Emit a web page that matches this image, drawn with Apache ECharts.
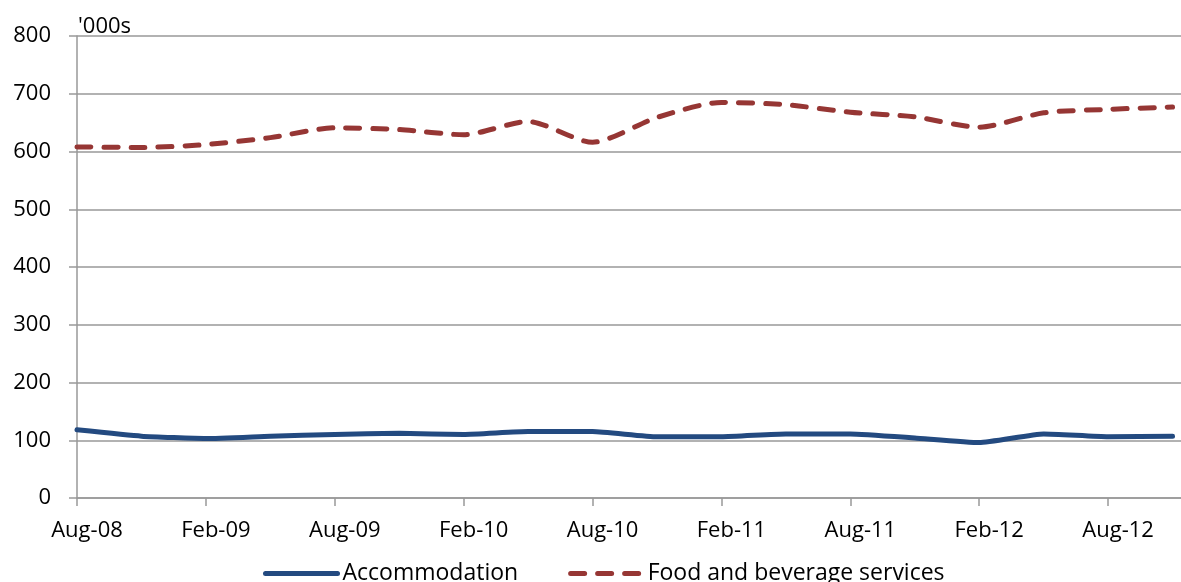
<!DOCTYPE html>
<html>
<head>
<meta charset="utf-8">
<script src="https://cdn.jsdelivr.net/npm/echarts@6/dist/echarts.min.js"></script>
<style>
html,body{margin:0;padding:0;background:#fff;overflow:hidden;width:1181px;height:582px;}
#chart{width:1240px;height:582px;}
</style>
</head>
<body>
<div id="chart"></div>
<script>
// Quarterly categories (last one lies beyond the visible edge, no data)
var categories = ['Aug-08','Nov-08','Feb-09','May-09','Aug-09','Nov-09','Feb-10','May-10','Aug-10','Nov-10','Feb-11','May-11','Aug-11','Nov-11','Feb-12','May-12','Aug-12','Nov-12','Feb-13'];
var accommodation = [118,107,103,107,110,112,110,115,115,106,106,111,111,104,96,111,106,107,null];
var foodBeverage = [608,607,612,624,641,638,629,652,616,659,685,681,668,660,642,667,673,677,null];
var yTicks = [0,100,200,300,400,500,600,700,800];
var yUnitLabel = "'000s";

var chart = echarts.init(document.getElementById('chart'));
var font = 'Open Sans';
var fs = 22;
var option = {
  animation: false,
  textStyle: {fontFamily: font},
  grid: {left: 77, top: 36, height: 462, width: 1160, containLabel: false, outerBoundsMode: 'none'},
  graphic: [{
    type: 'text', left: 78, top: 16,
    style: {text: yUnitLabel, font: fs + 'px "Open Sans"', fill: '#000'}
  }],
  legend: {
    left: 258, top: 557,
    itemWidth: 72, itemHeight: 14, itemGap: 50,
    textStyle: {fontFamily: font, fontSize: 23, color: '#000'},
    itemStyle: {opacity: 0},
    lineStyle: {width: 5},
    data: ['Accommodation', 'Food and beverage services']
  },
  xAxis: {
    type: 'category', data: categories, boundaryGap: false,
    axisLine: {lineStyle: {color: '#999', width: 1.5}},
    axisTick: {interval: 1, length: 8, lineStyle: {color: '#999', width: 1.5}},
    axisLabel: {interval: 1, color: '#000', fontSize: fs, fontFamily: font, margin: 22, padding: [0,0,0,20]},
    splitLine: {show: false}
  },
  yAxis: {
    type: 'value', min: yTicks[0], max: yTicks[yTicks.length-1], interval: 100,
    axisLine: {show: true, lineStyle: {color: '#999', width: 1.5}},
    axisTick: {show: true, inside: false, length: 8, lineStyle: {color: '#999', width: 1.5}},
    axisLabel: {color: '#000', fontSize: fs, fontFamily: font, margin: 26},
    splitLine: {show: true, lineStyle: {color: '#999', width: 1.5}}
  },
  series: [
    {
      name: 'Accommodation', type: 'line', data: accommodation,
      showSymbol: false, symbol: 'none', smooth: 0.15,
      lineStyle: {color: '#234a80', width: 5, cap: 'round', join: 'round'},
      itemStyle: {color: '#234a80'}
    },
    {
      name: 'Food and beverage services', type: 'line', data: foodBeverage,
      showSymbol: false, symbol: 'none', smooth: 0.25,
      lineStyle: {color: '#963634', width: 5, type: [14, 13], cap: 'round', join: 'round'},
      itemStyle: {color: '#963634'}
    }
  ]
};
chart.setOption(option);
</script>
</body>
</html>
